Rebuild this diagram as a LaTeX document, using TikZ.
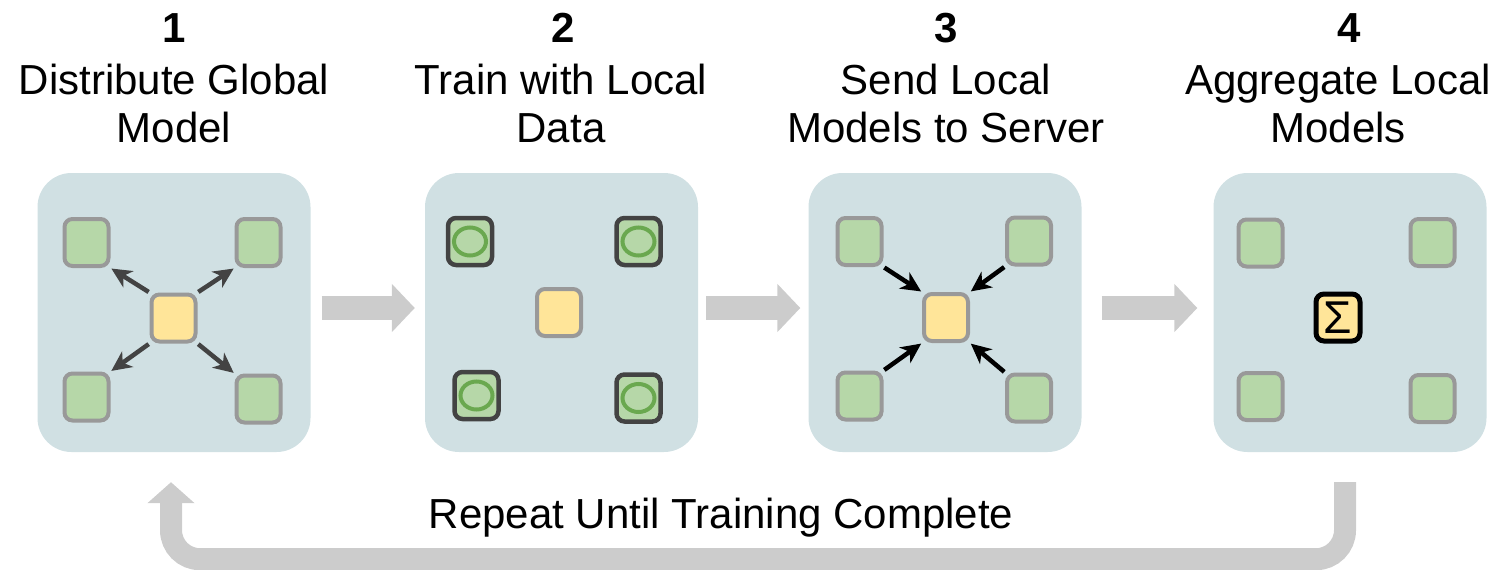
\documentclass[tikz,border=0pt]{standalone}
\usepackage{fontspec}
\setmainfont{Liberation Sans}
\usetikzlibrary{arrows.meta}
\definecolor{panelc}{HTML}{D0E0E3}
\definecolor{greenc}{HTML}{B6D7A8}
\definecolor{yellowc}{HTML}{FFE599}
\definecolor{edgec}{HTML}{999999}
\definecolor{darkc}{HTML}{434343}
\definecolor{ringc}{HTML}{6AA84F}
\definecolor{flowc}{HTML}{CCCCCC}
\tikzset{
  panel/.style={fill=panelc, draw=none, rounded corners=34pt,
    minimum width=273pt, minimum height=279pt, inner sep=0pt},
  client/.style={fill=greenc, draw=edgec, line width=4pt, rounded corners=8pt,
    minimum width=44pt, minimum height=47pt, inner sep=0pt},
  trained/.style={client, draw=darkc, line width=4.5pt},
  server/.style={fill=yellowc, draw=edgec, line width=4pt, rounded corners=8pt,
    minimum width=44pt, minimum height=47pt, inner sep=0pt},
  aggbox/.style={server, draw=black, line width=5pt,
    font=\fontsize{46}{46}\selectfont},
  ring/.style={draw=ringc, line width=4pt},
  outarrow/.style={draw=darkc, line width=4.5pt,
    -{Stealth[length=20pt, width=19pt, inset=6pt]}, shorten <=1pt, shorten >=1pt},
  inarrow/.style={outarrow, draw=black},
  bigarrow/.style={draw=flowc, line width=24pt, -{Triangle[length=23pt, width=47pt]}},
  looparrow/.style={draw=flowc, line width=22pt, rounded corners=29pt,
    -{Triangle[length=21pt, width=46pt]}},
  stepnum/.style={anchor=base, font=\fontsize{42}{48}\selectfont\bfseries},
  steptext/.style={anchor=base, font=\fontsize{42}{48}\selectfont},
}
\begin{document}
\begin{tikzpicture}[x=1pt, y=-1pt]
\useasboundingbox (0,0) rectangle (1499,570);

% step titles
\node[stepnum]  (n1) at (174,42) {1};
\node[steptext] (t1a) at (174,94) {Distribute Global};
\node[steptext] (t1b) at (174,142) {Model};
\node[stepnum]  (n2) at (563,42) {2};
\node[steptext] (t2a) at (561,94) {Train with Local};
\node[steptext] (t2b) at (561,142) {Data};
\node[stepnum]  (n3) at (946,42) {3};
\node[steptext] (t3a) at (946,94) {Send Local};
\node[steptext] (t3b) at (946,142) {Models to Server};
\node[stepnum]  (n4) at (1349,42) {4};
\node[steptext] (t4a) at (1338,94) {Aggregate Local};
\node[steptext] (t4b) at (1338,142) {Models};

% panels
\node[panel] (p1) at (174,312.5) {};
\node[panel] (p2) at (561.5,312.5) {};
\node[panel] (p3) at (945,312.5) {};
\node[panel] (p4) at (1350,312.5) {};

% step 1: global model sent out
\node[client] (a1) at (86.5,242.5) {};
\node[client] (b1) at (258.5,242.5) {};
\node[client] (c1) at (86.5,397) {};
\node[client] (d1) at (258.5,399) {};
\node[server] (s1) at (173.5,318) {};
\draw[outarrow] (s1.north west) -- (a1.south east);
\draw[outarrow] (s1.north east) -- (b1.south west);
\draw[outarrow] (s1.south west) -- (c1.north east);
\draw[outarrow] (s1.south east) -- (d1.north west);

% step 2: local training
\node[trained] (a2) at (470,241.5) {};
\node[trained] (b2) at (638.5,241.5) {};
\node[trained] (c2) at (476.5,395.5) {};
\node[trained] (d2) at (638.5,398) {};
\node[server]  (s2) at (559,312.5) {};
\foreach \n in {a2,b2,c2,d2}
  \draw[ring] (\n.center) ellipse [x radius=16pt, y radius=14pt];

% step 3: local models sent back
\node[client] (a3) at (859.5,241.5) {};
\node[client] (b3) at (1029,241) {};
\node[client] (c3) at (859.5,396) {};
\node[client] (d3) at (1029,398) {};
\node[server] (s3) at (946,317.5) {};
\draw[inarrow] (a3.south east) -- (s3.north west);
\draw[inarrow] (b3.south west) -- (s3.north east);
\draw[inarrow] (c3.north east) -- (s3.south west);
\draw[inarrow] (d3.north west) -- (s3.south east);

% step 4: aggregation
\node[client] (a4) at (1260.5,243) {};
\node[client] (b4) at (1432.5,242.5) {};
\node[client] (c4) at (1260.5,396.5) {};
\node[client] (d4) at (1432.5,398.5) {};
\node[aggbox] (s4) at (1338,317.5) {Σ};

% flow between steps
\draw[bigarrow, shorten <=11pt, shorten >=10pt] ([yshift=4.5pt]p1.east) -- ([yshift=4.5pt]p2.west);
\draw[bigarrow, shorten <=8pt, shorten >=8pt] ([yshift=4.5pt]p2.east) -- ([yshift=4.5pt]p3.west);
\draw[bigarrow, shorten <=20pt, shorten >=16pt] ([yshift=4.5pt]p3.east) -- ([yshift=4.5pt]p4.west);

% repeat loop
\coordinate (loopstart) at ([shift={(-5,30)}]p4.south);
\coordinate (loopend) at ([shift={(-3,30)}]p1.south);
\draw[looparrow] (loopstart) -- ++(0,77) -| (loopend);
\node[steptext] (rep) at (721,528) {Repeat Until Training Complete};
\end{tikzpicture}
\end{document}
